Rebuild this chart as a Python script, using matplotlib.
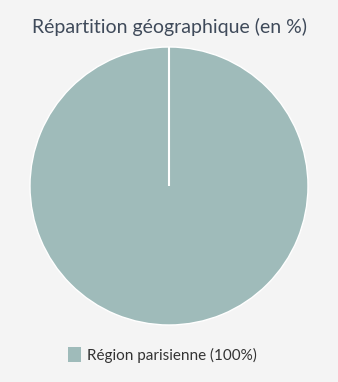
import matplotlib.pyplot as plt
import numpy as np
from matplotlib.patches import Patch

# data
labels = ['Région parisienne']
shares = [100]
colors = ['#9fbbba']

W, H = 338, 382
fig = plt.figure(figsize=(W / 100, H / 100), dpi=100)
fig.patch.set_facecolor('#f4f4f4')

# pie centred at (169, 186) px, radius ~139 px
ax = fig.add_axes([30 / W, 57 / H, 278 / W, 278 / H])
wedges, _ = ax.pie(shares, colors=colors, startangle=90, counterclock=False,
                   wedgeprops={'edgecolor': 'white', 'linewidth': 1.0})
# a full wedge has no radial edge, draw it from the wedge geometry
for w in wedges:
    cx, cy = w.center
    a = np.deg2rad(w.theta2)
    ax.plot([cx, cx + w.r * np.cos(a)], [cy, cy + w.r * np.sin(a)],
            color='white', lw=1.5, solid_capstyle='butt')
ax.set_xlim(-1, 1)
ax.set_ylim(-1, 1)
ax.set_aspect('equal')
ax.axis('off')

fig.text(0.5, 1 - 27 / H, 'Répartition géographique (en %)', ha='center', va='center',
         fontsize=14, color='#3f4a5a', family='Lato')

handles = [Patch(facecolor=c, edgecolor='none') for c in colors]
leg_labels = [f'{l} ({s}%)' for l, s in zip(labels, shares)]
fig.legend(handles, leg_labels, loc='center', bbox_to_anchor=(162.5 / W, 1 - 355 / H),
           frameon=False, handlelength=0.8, handleheight=1.1, handletextpad=0.4,
           prop={'family': 'Lato', 'size': 11}, labelcolor='#333333')

fig.savefig('out.png', dpi=100, facecolor=fig.get_facecolor())
